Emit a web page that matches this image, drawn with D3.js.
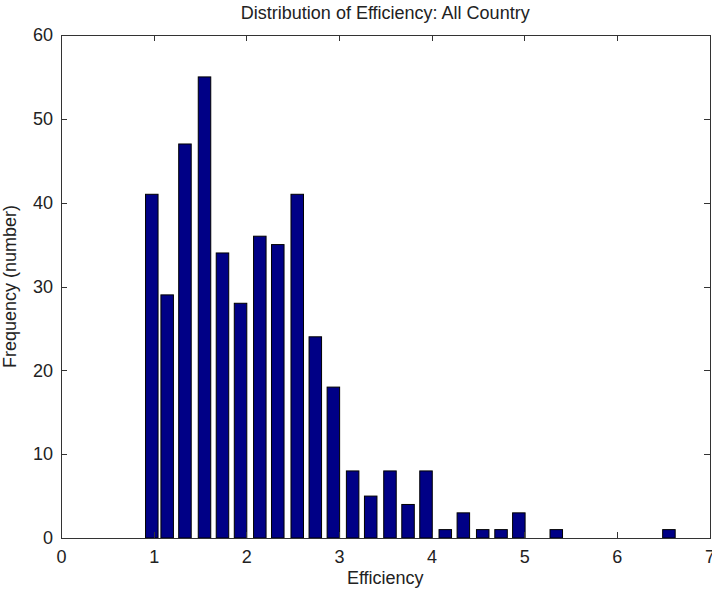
<!DOCTYPE html>
<html>
<head>
<meta charset="utf-8">
<script src="https://cdn.jsdelivr.net/npm/d3@7"></script>
<style>
  body { margin: 0; background: #fff; }
  svg text { font-family: "Liberation Sans", Arial, sans-serif; fill: #222; }
  .axis path, .axis line { stroke: #333; shape-rendering: crispEdges; }
</style>
</head>
<body>
<svg id="chart" width="712" height="592"></svg>
<script>
// DATA
var binCenters = [0.98, 1.146, 1.338, 1.549, 1.743, 1.938, 2.146, 2.340, 2.550, 2.745,
                  2.940, 3.148, 3.343, 3.551, 3.746, 3.940, 4.148, 4.343, 4.552, 4.750,
                  4.942, 5.346, 6.562];
var counts = [41, 29, 47, 55, 34, 28, 36, 35, 41, 24,
              18, 8, 5, 8, 4, 8, 1, 3, 1, 1,
              3, 1, 1];
var xTicks = [0, 1, 2, 3, 4, 5, 6, 7];
var yTicks = [0, 10, 20, 30, 40, 50, 60];

var titleText = "Distribution of Efficiency: All Country";
var xLabel = "Efficiency";
var yLabel = "Frequency (number)";

// DRAWING AREA
var plotLeft = 61, plotRight = 709.5, plotTop = 35, plotBottom = 538;
var barW = 0.135;   // bar width in data units
var fontSize = 18;

var svg = d3.select("#chart");

var x = d3.scaleLinear().domain([0, 7]).range([plotLeft, plotRight]);
var y = d3.scaleLinear().domain([0, 60]).range([plotBottom, plotTop]);

// bars
svg.selectAll("rect.bar")
  .data(binCenters)
  .enter()
  .append("rect")
  .attr("class", "bar")
  .attr("x", (d) => x(d - barW / 2))
  .attr("width", (d) => x(d + barW / 2) - x(d - barW / 2))
  .attr("y", (d, i) => y(counts[i]))
  .attr("height", (d, i) => y(0) - y(counts[i]))
  .attr("fill", "#000086")
  .attr("stroke", "#000")
  .attr("stroke-width", 1);

// AXES (ticks point inward, box on all four sides)
var gx = svg.append("g").attr("class", "axis")
  .attr("transform", "translate(0," + plotBottom + ")")
  .call(d3.axisBottom(x).tickValues(xTicks).tickFormat(d3.format("d"))
    .tickSizeInner(-6).tickSizeOuter(0).tickPadding(12));

var gxTop = svg.append("g").attr("class", "axis")
  .attr("transform", "translate(0," + plotTop + ")")
  .call(d3.axisTop(x).tickValues(xTicks).tickFormat("")
    .tickSizeInner(-6).tickSizeOuter(0));

var gy = svg.append("g").attr("class", "axis")
  .attr("transform", "translate(" + plotLeft + ",0)")
  .call(d3.axisLeft(y).tickValues(yTicks).tickFormat(d3.format("d"))
    .tickSizeInner(-6).tickSizeOuter(0).tickPadding(8));

var gyRight = svg.append("g").attr("class", "axis")
  .attr("transform", "translate(" + plotRight + ",0)")
  .call(d3.axisRight(y).tickValues(yTicks).tickFormat("")
    .tickSizeInner(-6).tickSizeOuter(0));

svg.selectAll(".axis text")
  .style("font-size", fontSize + "px")
  .style("font-family", "'Liberation Sans', Arial, sans-serif")
  .attr("fill", "#222");

// TITLE AND LABELS
svg.append("text")
  .attr("x", (plotLeft + plotRight) / 2)
  .attr("y", 19)
  .attr("text-anchor", "middle")
  .style("font-size", fontSize + "px")
  .text(titleText);

svg.append("text")
  .attr("x", (plotLeft + plotRight) / 2)
  .attr("y", 584)
  .attr("text-anchor", "middle")
  .style("font-size", fontSize + "px")
  .text(xLabel);

svg.append("text")
  .attr("transform", "translate(15.5," + ((plotTop + plotBottom) / 2) + ") rotate(-90)")
  .attr("text-anchor", "middle")
  .style("font-size", fontSize + "px")
  .text(yLabel);
</script>
</body>
</html>
